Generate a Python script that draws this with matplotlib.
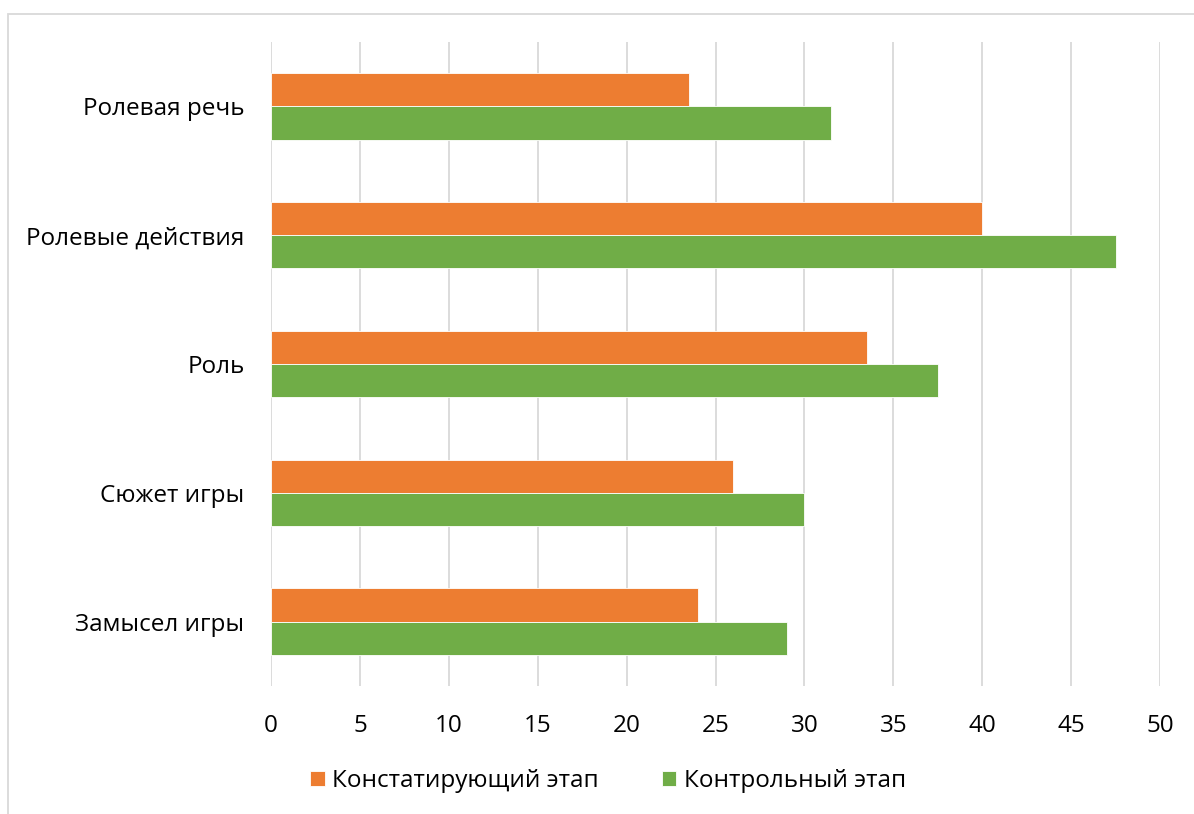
import numpy as np
import matplotlib.pyplot as plt
from matplotlib.patches import Rectangle

plt.rcParams['font.family'] = ['Open Sans', 'DejaVu Sans']

# ─── Data ─────────────────────────────────────────────────────────────────────

categories = ['Замысел игры', 'Сюжет игры', 'Роль', 'Ролевые действия', 'Ролевая речь']
stage_1 = [24, 26, 33.5, 40, 23.5]      # Констатирующий этап
stage_2 = [29, 30, 37.5, 47.5, 31.5]    # Контрольный этап
x_ticks = [0, 5, 10, 15, 20, 25, 30, 35, 40, 45, 50]

ORANGE = '#ED7D31'
GREEN = '#70AD47'
GRID = '#D9D9D9'
FS = 17.5

# ─── Plot ─────────────────────────────────────────────────────────────────────

fig = plt.figure(figsize=(11.94, 8.14), dpi=100)
ax = fig.add_axes([271 / 1194, 1 - 686 / 814, (1160 - 271) / 1194, (686 - 42) / 814])

y = np.arange(len(categories))
h = 0.257
ax.barh(y + h / 2, stage_1, height=h, color=ORANGE, edgecolor='white', linewidth=0.6,
        label='Констатирующий этап', zorder=3)
ax.barh(y - h / 2, stage_2, height=h, color=GREEN, edgecolor='white', linewidth=0.6,
        label='Контрольный этап', zorder=3)

ax.set_xlim(0, 50)
ax.set_ylim(-0.5, len(categories) - 0.5)
ax.set_xticks(x_ticks)
ax.set_yticks(y)
ax.set_yticklabels(categories)
ax.tick_params(axis='both', length=0, labelsize=FS, colors='black')
ax.tick_params(axis='x', pad=20)
ax.tick_params(axis='y', pad=19)
ax.grid(axis='x', color=GRID, linewidth=1.3, zorder=0)
ax.set_axisbelow(True)
for s in ax.spines.values():
    s.set_visible(False)

fig.legend(loc='center', bbox_to_anchor=(608 / 1194, 1 - 781 / 814), ncol=2, frameon=False,
           fontsize=FS, handlelength=0.6, handleheight=0.6, handletextpad=0.3,
           columnspacing=2.6)

# chart area border
fig.patches.append(Rectangle((8 / 1194, -0.1), 1.2, 1 - 14 / 814 + 0.1,
                             transform=fig.transFigure, fill=False,
                             edgecolor=GRID, linewidth=1.3))

fig.savefig('out.png', dpi=100)
